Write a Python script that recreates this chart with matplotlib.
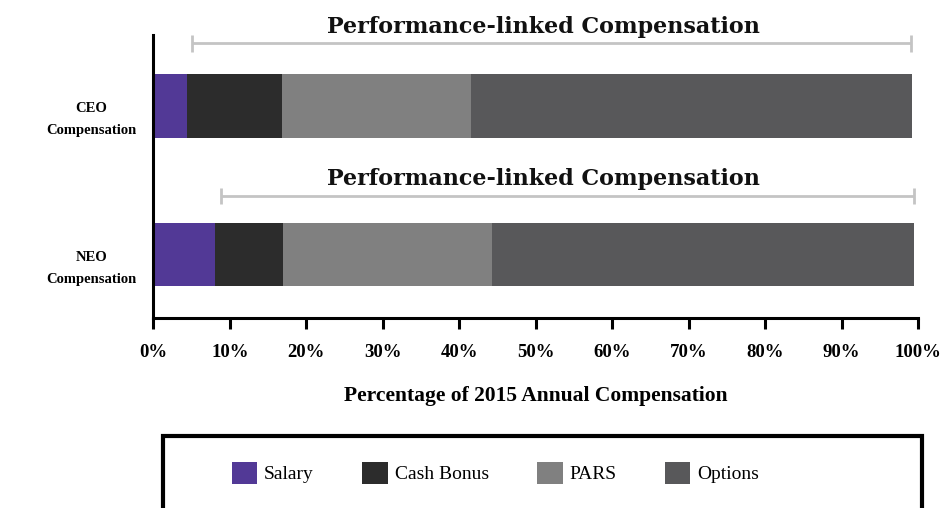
import matplotlib
matplotlib.use("Agg")
import matplotlib.pyplot as plt
from matplotlib.patches import Patch, Rectangle
from matplotlib.transforms import ScaledTranslation

# ---- data ----
groups = ["NEO\nCompensation", "CEO\nCompensation"]
components = ["Salary", "Cash Bonus", "PARS", "Options"]
salary = [8.1, 4.4]
cash_bonus = [8.8, 12.4]
pars = [27.4, 24.8]
options = [55.2, 57.6]
bracket_start = [8.8, 5.0]
bracket_end = [99.5, 99.1]
bracket_label = "Performance-linked Compensation"
xticks = [0, 10, 20, 30, 40, 50, 60, 70, 80, 90, 100]
xticklabels = [f"{t}%" for t in xticks]
xlabel = "Percentage of 2015 Annual Compensation"

colors = ["#523996", "#2c2c2c", "#808080", "#58585a"]

fig = plt.figure(figsize=(9.41, 5.08), dpi=100)
ax = fig.add_axes([153.3 / 941, 1 - 318 / 508, (918 - 153.3) / 941, (318 - 35) / 508])

ypos = [0, 1]
series = [salary, cash_bonus, pars, options]
left = [0.0, 0.0]
for vals, col, name in zip(series, colors, components):
    ax.barh(ypos, vals, left=left, height=0.425, color=col, edgecolor="none", label=name)
    left = [l + v for l, v in zip(left, vals)]

ax.set_xlim(0, 100)
ax.set_ylim(-0.426, 1.477)

# brackets
for y, s, e in zip(ypos, bracket_start, bracket_end):
    by = y + 0.395 if y == 0 else y + 0.421
    ax.plot([s, e], [by, by], color="#c4c4c4", lw=2.0, solid_capstyle="butt", clip_on=False)
    for xx in (s, e):
        ax.plot([xx, xx], [by - 0.055, by + 0.055], color="#c4c4c4", lw=2.0,
                solid_capstyle="butt", clip_on=False)
    ax.annotate(bracket_label, xy=(51, by), xytext=(0, 4), textcoords="offset points",
                ha="center", va="bottom", fontsize=16, fontweight="bold",
                family="DejaVu Serif", color="#111111", annotation_clip=False)

# axes styling
for sp in ("top", "right"):
    ax.spines[sp].set_visible(False)
ax.spines["left"].set_linewidth(2.2)
ax.spines["bottom"].set_linewidth(2.2)
ax.set_xticks(xticks)
ax.set_xticklabels(xticklabels, fontsize=13.5, fontweight="bold", family="Liberation Serif")
ax.tick_params(axis="x", direction="out", length=8, width=2.2, pad=10.5)
ax.set_yticks(ypos)
ax.set_yticklabels(groups, fontsize=10.5, fontweight="bold", family="Liberation Serif",
                   multialignment="center", linespacing=1.9)
ax.tick_params(axis="y", length=0, pad=12)
for lab in ax.get_yticklabels():
    lab.set_transform(lab.get_transform() + ScaledTranslation(0, -8 / 100, fig.dpi_scale_trans))
ax.set_xlabel(xlabel, fontsize=15.5, fontweight="bold", family="Liberation Serif", labelpad=18)

# legend box (extends past bottom edge)
box_h = 100 / 508
box = Rectangle((163 / 941, 1 - 436 / 508 - box_h), (922 - 163) / 941, box_h,
                transform=fig.transFigure, fill=False, edgecolor="black", lw=3.0,
                clip_on=False)
fig.patches.append(box)

handles = [Patch(facecolor=c, edgecolor="none") for c in colors]
fig.legend(handles, components, loc="center left", bbox_to_anchor=(232 / 941, 1 - 473 / 508),
           ncol=4, frameon=False, borderpad=0, borderaxespad=0,
           handlelength=1.3, handleheight=1.4, handletextpad=0.35, columnspacing=2.5,
           prop={"family": "Liberation Serif", "size": 14})

fig.savefig("out.png", dpi=100)
